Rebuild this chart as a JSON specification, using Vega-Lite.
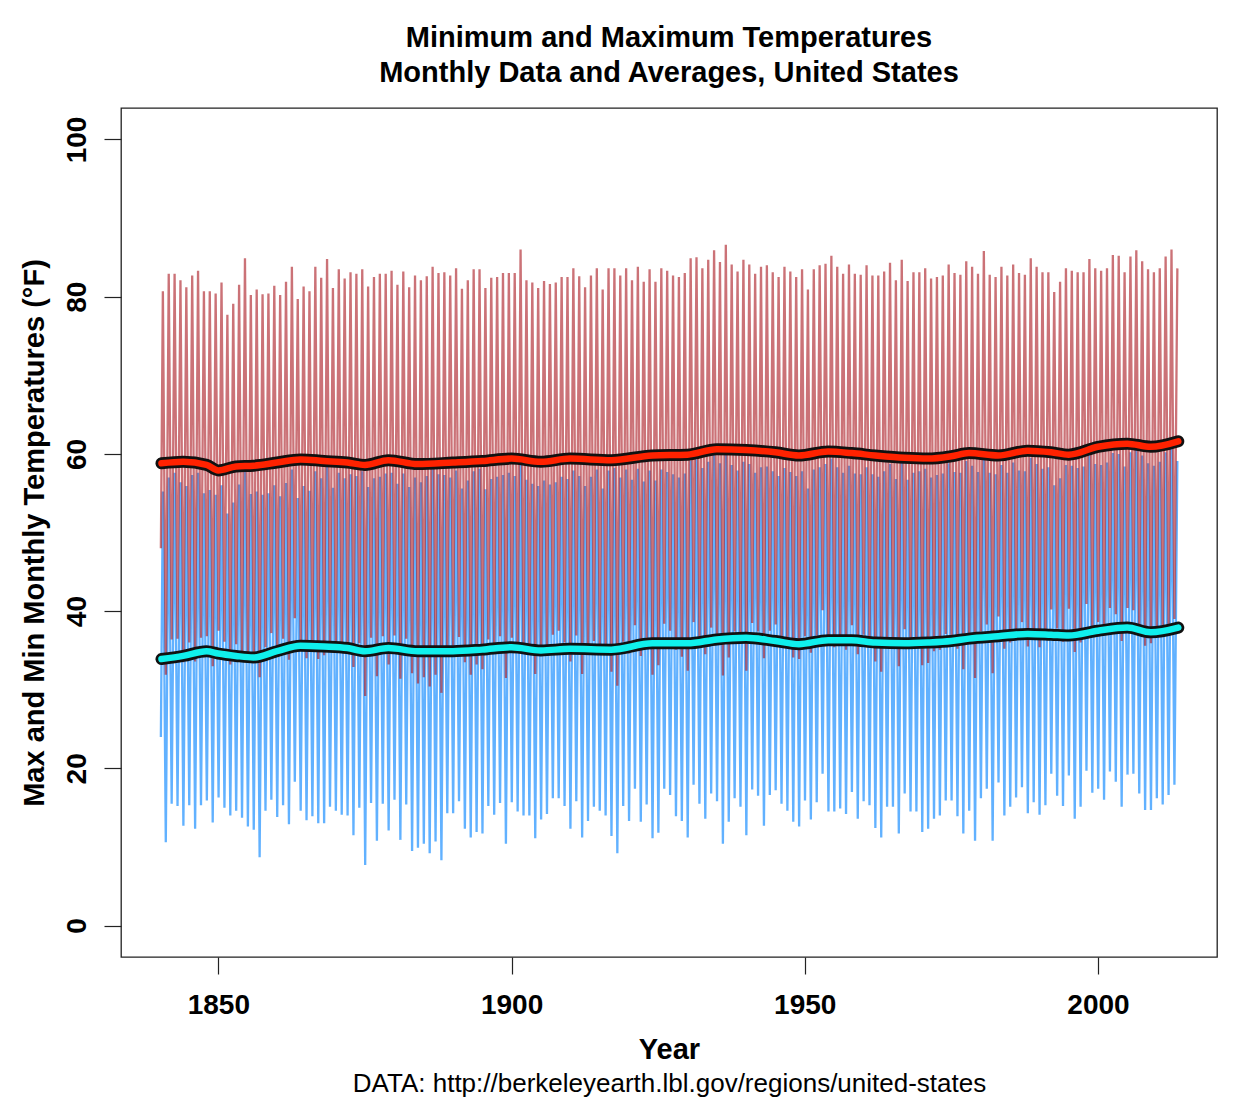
{
"$schema":"https://vega.github.io/schema/vega-lite/v6.json",
"width":1096,"height":849,
"autosize":{"type":"none"},
"padding":{"left":121,"top":108,"right":21,"bottom":154},
"background":"white",
"title":{"text":["Minimum and Maximum Temperatures","Monthly Data and Averages, United States"],"fontSize":29,"fontWeight":"bold","lineHeight":35,"anchor":"middle","offset":20,"color":"black","font":"Liberation Sans"},
"config":{
 "font":"Liberation Sans",
 "view":{"stroke":"#222","strokeWidth":1.3},
 "axis":{"grid":false,"domain":false,"tickColor":"#222","tickSize":17,"tickWidth":1.2,"labelColor":"black","labelFontSize":28,"labelFontWeight":"bold","titleColor":"black","titleFontSize":29,"titleFontWeight":"bold","labelFont":"Liberation Sans","titleFont":"Liberation Sans"},
 "axisX":{"labelPadding":17,"titlePadding":16},
 "axisY":{"labelAngle":-90,"labelAlign":"center","labelBaseline":"bottom","labelPadding":13,"titlePadding":14}
},
"resolve":{"axis":{"x":"independent"}},
"datasets":{
"m":[
{"t":1840.2,"mx":48.0,"mn":24.0},{"t":1840.54,"mx":80.7,"mn":55.2},
{"t":1841.04,"mx":31.9,"mn":10.6},{"t":1841.54,"mx":82.9,"mn":57.0},
{"t":1842.04,"mx":36.4,"mn":15.5},{"t":1842.54,"mx":82.9,"mn":57.6},
{"t":1843.04,"mx":36.5,"mn":15.2},{"t":1843.54,"mx":82.1,"mn":56.4},
{"t":1844.04,"mx":33.5,"mn":12.7},{"t":1844.54,"mx":81.2,"mn":55.9},
{"t":1845.04,"mx":36.0,"mn":15.3},{"t":1845.54,"mx":82.7,"mn":57.3},
{"t":1846.04,"mx":33.6,"mn":12.3},{"t":1846.54,"mx":83.3,"mn":57.6},
{"t":1847.04,"mx":36.6,"mn":15.3},{"t":1847.54,"mx":80.7,"mn":55.0},
{"t":1848.04,"mx":36.8,"mn":15.9},{"t":1848.54,"mx":80.7,"mn":55.4},
{"t":1849.04,"mx":33.0,"mn":13.1},{"t":1849.54,"mx":80.4,"mn":54.8},
{"t":1850.04,"mx":37.5,"mn":16.3},{"t":1850.54,"mx":81.8,"mn":56.0},
{"t":1851.04,"mx":36.1,"mn":15.0},{"t":1851.54,"mx":77.7,"mn":52.4},
{"t":1852.04,"mx":33.2,"mn":14.0},{"t":1852.54,"mx":79.1,"mn":53.8},
{"t":1853.04,"mx":35.8,"mn":14.6},{"t":1853.54,"mx":81.5,"mn":56.1},
{"t":1854.04,"mx":34.9,"mn":13.7},{"t":1854.54,"mx":84.9,"mn":58.6},
{"t":1855.04,"mx":33.7,"mn":12.6},{"t":1855.54,"mx":80.2,"mn":54.9},
{"t":1856.04,"mx":33.5,"mn":12.2},{"t":1856.54,"mx":80.9,"mn":55.2},
{"t":1857.04,"mx":31.6,"mn":8.7},{"t":1857.54,"mx":80.3,"mn":54.8},
{"t":1858.04,"mx":35.4,"mn":14.6},{"t":1858.54,"mx":80.4,"mn":55.0},
{"t":1859.04,"mx":37.2,"mn":16.0},{"t":1859.54,"mx":81.4,"mn":56.0},
{"t":1860.04,"mx":34.6,"mn":13.8},{"t":1860.54,"mx":80.2,"mn":54.6},
{"t":1861.04,"mx":36.5,"mn":15.3},{"t":1861.54,"mx":81.9,"mn":56.3},
{"t":1862.04,"mx":33.8,"mn":12.9},{"t":1862.54,"mx":83.8,"mn":58.0},
{"t":1863.04,"mx":39.1,"mn":18.3},{"t":1863.54,"mx":79.7,"mn":54.4},
{"t":1864.04,"mx":35.9,"mn":14.6},{"t":1864.54,"mx":81.3,"mn":55.9},
{"t":1865.04,"mx":34.0,"mn":13.4},{"t":1865.54,"mx":80.7,"mn":55.3},
{"t":1866.04,"mx":35.2,"mn":13.9},{"t":1866.54,"mx":83.8,"mn":57.8},
{"t":1867.04,"mx":33.9,"mn":13.0},{"t":1867.54,"mx":82.4,"mn":56.9},
{"t":1868.04,"mx":34.4,"mn":13.0},{"t":1868.54,"mx":84.8,"mn":58.9},
{"t":1869.04,"mx":36.0,"mn":15.1},{"t":1869.54,"mx":81.1,"mn":55.7},
{"t":1870.04,"mx":35.7,"mn":14.6},{"t":1870.54,"mx":83.5,"mn":57.6},
{"t":1871.04,"mx":35.3,"mn":14.1},{"t":1871.54,"mx":82.3,"mn":56.9},
{"t":1872.04,"mx":34.8,"mn":14.0},{"t":1872.54,"mx":83.1,"mn":57.4},
{"t":1873.04,"mx":32.9,"mn":11.5},{"t":1873.54,"mx":82.9,"mn":57.2},
{"t":1874.04,"mx":35.9,"mn":15.0},{"t":1874.54,"mx":83.5,"mn":57.8},
{"t":1875.04,"mx":29.2,"mn":7.7},{"t":1875.54,"mx":81.3,"mn":55.8},
{"t":1876.04,"mx":36.6,"mn":15.6},{"t":1876.54,"mx":82.5,"mn":56.9},
{"t":1877.04,"mx":31.7,"mn":10.8},{"t":1877.54,"mx":82.9,"mn":57.1},
{"t":1878.04,"mx":36.8,"mn":15.5},{"t":1878.54,"mx":82.9,"mn":57.5},
{"t":1879.04,"mx":33.2,"mn":12.1},{"t":1879.54,"mx":83.3,"mn":57.6},
{"t":1880.04,"mx":36.9,"mn":16.0},{"t":1880.54,"mx":81.5,"mn":56.2},
{"t":1881.04,"mx":31.4,"mn":10.9},{"t":1881.54,"mx":83.2,"mn":57.5},
{"t":1882.04,"mx":36.5,"mn":15.4},{"t":1882.54,"mx":81.2,"mn":55.8},
{"t":1883.04,"mx":32.1,"mn":9.5},{"t":1883.54,"mx":82.7,"mn":57.0},
{"t":1884.04,"mx":30.8,"mn":9.9},{"t":1884.54,"mx":82.1,"mn":56.4},
{"t":1885.04,"mx":31.6,"mn":10.4},{"t":1885.54,"mx":82.6,"mn":57.2},
{"t":1886.04,"mx":30.4,"mn":9.2},{"t":1886.54,"mx":83.8,"mn":58.1},
{"t":1887.04,"mx":31.9,"mn":10.7},{"t":1887.54,"mx":83.0,"mn":57.4},
{"t":1888.04,"mx":29.6,"mn":8.3},{"t":1888.54,"mx":83.1,"mn":57.3},
{"t":1889.04,"mx":35.2,"mn":14.3},{"t":1889.54,"mx":82.7,"mn":57.0},
{"t":1890.04,"mx":35.6,"mn":14.3},{"t":1890.54,"mx":83.6,"mn":57.9},
{"t":1891.04,"mx":36.7,"mn":15.8},{"t":1891.54,"mx":81.0,"mn":55.6},
{"t":1892.04,"mx":33.5,"mn":12.3},{"t":1892.54,"mx":82.1,"mn":56.6},
{"t":1893.04,"mx":31.9,"mn":11.2},{"t":1893.54,"mx":83.5,"mn":57.8},
{"t":1894.04,"mx":33.2,"mn":11.9},{"t":1894.54,"mx":83.5,"mn":58.1},
{"t":1895.04,"mx":32.6,"mn":11.7},{"t":1895.54,"mx":81.1,"mn":55.5},
{"t":1896.04,"mx":36.4,"mn":15.2},{"t":1896.54,"mx":82.4,"mn":56.8},
{"t":1897.04,"mx":35.0,"mn":14.1},{"t":1897.54,"mx":82.5,"mn":57.1},
{"t":1898.04,"mx":36.8,"mn":15.6},{"t":1898.54,"mx":83.0,"mn":57.3},
{"t":1899.04,"mx":31.5,"mn":10.4},{"t":1899.54,"mx":83.0,"mn":57.6},
{"t":1900.04,"mx":36.6,"mn":15.7},{"t":1900.54,"mx":83.0,"mn":57.2},
{"t":1901.04,"mx":35.8,"mn":14.5},{"t":1901.54,"mx":86.0,"mn":59.7},
{"t":1902.04,"mx":34.9,"mn":14.0},{"t":1902.54,"mx":82.1,"mn":56.7},
{"t":1903.04,"mx":35.3,"mn":14.0},{"t":1903.54,"mx":81.8,"mn":56.2},
{"t":1904.04,"mx":32.0,"mn":11.1},{"t":1904.54,"mx":81.1,"mn":55.9},
{"t":1905.04,"mx":34.6,"mn":13.5},{"t":1905.54,"mx":82.0,"mn":56.6},
{"t":1906.04,"mx":35.4,"mn":14.2},{"t":1906.54,"mx":81.6,"mn":56.1},
{"t":1907.04,"mx":37.0,"mn":16.2},{"t":1907.54,"mx":81.8,"mn":56.4},
{"t":1908.04,"mx":37.5,"mn":16.2},{"t":1908.54,"mx":82.5,"mn":57.1},
{"t":1909.04,"mx":36.0,"mn":15.2},{"t":1909.54,"mx":82.5,"mn":56.8},
{"t":1910.04,"mx":33.6,"mn":12.3},{"t":1910.54,"mx":83.6,"mn":57.9},
{"t":1911.04,"mx":36.9,"mn":15.8},{"t":1911.54,"mx":82.6,"mn":57.2},
{"t":1912.04,"mx":32.0,"mn":11.2},{"t":1912.54,"mx":81.2,"mn":55.9},
{"t":1913.04,"mx":34.5,"mn":13.3},{"t":1913.54,"mx":82.7,"mn":57.1},
{"t":1914.04,"mx":36.2,"mn":15.1},{"t":1914.54,"mx":83.6,"mn":58.0},
{"t":1915.04,"mx":35.4,"mn":14.6},{"t":1915.54,"mx":80.9,"mn":55.6},
{"t":1916.04,"mx":35.3,"mn":14.0},{"t":1916.54,"mx":83.6,"mn":57.9},
{"t":1917.04,"mx":32.3,"mn":11.4},{"t":1917.54,"mx":83.6,"mn":58.2},
{"t":1918.04,"mx":30.5,"mn":9.2},{"t":1918.54,"mx":82.7,"mn":57.0},
{"t":1919.04,"mx":36.1,"mn":15.2},{"t":1919.54,"mx":83.6,"mn":58.0},
{"t":1920.04,"mx":34.6,"mn":13.3},{"t":1920.54,"mx":82.1,"mn":56.7},
{"t":1921.04,"mx":38.2,"mn":17.4},{"t":1921.54,"mx":83.8,"mn":58.1},
{"t":1922.04,"mx":34.3,"mn":13.2},{"t":1922.54,"mx":81.9,"mn":56.5},
{"t":1923.04,"mx":36.6,"mn":15.4},{"t":1923.54,"mx":83.5,"mn":57.9},
{"t":1924.04,"mx":31.9,"mn":11.1},{"t":1924.54,"mx":81.9,"mn":56.6},
{"t":1925.04,"mx":33.1,"mn":11.8},{"t":1925.54,"mx":83.6,"mn":58.0},
{"t":1926.04,"mx":38.4,"mn":17.4},{"t":1926.54,"mx":83.3,"mn":57.7},
{"t":1927.04,"mx":37.5,"mn":16.6},{"t":1927.54,"mx":82.7,"mn":57.4},
{"t":1928.04,"mx":35.1,"mn":13.9},{"t":1928.54,"mx":82.5,"mn":57.0},
{"t":1929.04,"mx":34.2,"mn":13.3},{"t":1929.54,"mx":83.0,"mn":57.5},
{"t":1930.04,"mx":32.4,"mn":11.2},{"t":1930.54,"mx":84.9,"mn":59.1},
{"t":1931.04,"mx":38.6,"mn":17.9},{"t":1931.54,"mx":85.0,"mn":59.3},
{"t":1932.04,"mx":36.7,"mn":15.5},{"t":1932.54,"mx":83.6,"mn":58.2},
{"t":1933.04,"mx":34.5,"mn":13.6},{"t":1933.54,"mx":84.7,"mn":59.0},
{"t":1934.04,"mx":37.9,"mn":16.8},{"t":1934.54,"mx":85.9,"mn":60.0},
{"t":1935.04,"mx":36.6,"mn":15.8},{"t":1935.54,"mx":84.4,"mn":58.8},
{"t":1936.04,"mx":31.8,"mn":10.4},{"t":1936.54,"mx":86.6,"mn":60.4},
{"t":1937.04,"mx":34.1,"mn":13.2},{"t":1937.54,"mx":84.1,"mn":58.6},
{"t":1938.04,"mx":37.4,"mn":16.2},{"t":1938.54,"mx":83.2,"mn":57.9},
{"t":1939.04,"mx":36.3,"mn":15.1},{"t":1939.54,"mx":84.7,"mn":59.0},
{"t":1940.04,"mx":32.4,"mn":11.5},{"t":1940.54,"mx":84.1,"mn":58.7},
{"t":1941.04,"mx":38.5,"mn":17.3},{"t":1941.54,"mx":82.9,"mn":57.6},
{"t":1942.04,"mx":37.4,"mn":16.5},{"t":1942.54,"mx":83.8,"mn":58.3},
{"t":1943.04,"mx":34.0,"mn":12.7},{"t":1943.54,"mx":84.0,"mn":58.4},
{"t":1944.04,"mx":37.5,"mn":16.6},{"t":1944.54,"mx":83.1,"mn":57.8},
{"t":1945.04,"mx":38.3,"mn":17.2},{"t":1945.54,"mx":82.5,"mn":57.2},
{"t":1946.04,"mx":36.4,"mn":15.5},{"t":1946.54,"mx":83.8,"mn":58.2},
{"t":1947.04,"mx":35.8,"mn":14.6},{"t":1947.54,"mx":83.2,"mn":57.7},
{"t":1948.04,"mx":34.1,"mn":13.2},{"t":1948.54,"mx":82.5,"mn":57.2},
{"t":1949.04,"mx":33.9,"mn":12.6},{"t":1949.54,"mx":83.5,"mn":57.8},
{"t":1950.04,"mx":36.8,"mn":15.9},{"t":1950.54,"mx":80.9,"mn":55.6},
{"t":1951.04,"mx":34.7,"mn":13.5},{"t":1951.54,"mx":83.5,"mn":58.0},
{"t":1952.04,"mx":36.9,"mn":15.7},{"t":1952.54,"mx":84.0,"mn":58.3},
{"t":1953.04,"mx":40.1,"mn":19.3},{"t":1953.54,"mx":84.2,"mn":58.7},
{"t":1954.04,"mx":35.8,"mn":14.5},{"t":1954.54,"mx":85.2,"mn":59.4},
{"t":1955.04,"mx":35.4,"mn":14.5},{"t":1955.54,"mx":83.8,"mn":58.3},
{"t":1956.04,"mx":36.2,"mn":14.9},{"t":1956.54,"mx":82.9,"mn":57.6},
{"t":1957.04,"mx":35.1,"mn":14.2},{"t":1957.54,"mx":84.1,"mn":58.5},
{"t":1958.04,"mx":38.2,"mn":17.0},{"t":1958.54,"mx":82.9,"mn":57.5},
{"t":1959.04,"mx":34.5,"mn":13.6},{"t":1959.54,"mx":82.8,"mn":57.4},
{"t":1960.04,"mx":37.0,"mn":15.8},{"t":1960.54,"mx":84.0,"mn":58.3},
{"t":1961.04,"mx":36.1,"mn":15.3},{"t":1961.54,"mx":82.7,"mn":57.4},
{"t":1962.04,"mx":33.6,"mn":12.4},{"t":1962.54,"mx":82.7,"mn":57.1},
{"t":1963.04,"mx":32.3,"mn":11.2},{"t":1963.54,"mx":83.2,"mn":57.8},
{"t":1964.04,"mx":36.3,"mn":15.1},{"t":1964.54,"mx":84.3,"mn":58.7},
{"t":1965.04,"mx":35.9,"mn":15.1},{"t":1965.54,"mx":82.1,"mn":56.8},
{"t":1966.04,"mx":33.0,"mn":11.7},{"t":1966.54,"mx":84.7,"mn":59.0},
{"t":1967.04,"mx":37.7,"mn":16.8},{"t":1967.54,"mx":82.0,"mn":56.7},
{"t":1968.04,"mx":35.8,"mn":14.5},{"t":1968.54,"mx":83.1,"mn":57.6},
{"t":1969.04,"mx":35.3,"mn":14.5},{"t":1969.54,"mx":83.1,"mn":57.8},
{"t":1970.04,"mx":33.1,"mn":11.9},{"t":1970.54,"mx":83.6,"mn":58.1},
{"t":1971.04,"mx":33.4,"mn":12.3},{"t":1971.54,"mx":82.3,"mn":57.0},
{"t":1972.04,"mx":34.9,"mn":13.6},{"t":1972.54,"mx":82.5,"mn":57.3},
{"t":1973.04,"mx":35.1,"mn":14.0},{"t":1973.54,"mx":82.7,"mn":57.5},
{"t":1974.04,"mx":37.1,"mn":15.9},{"t":1974.54,"mx":84.1,"mn":58.8},
{"t":1975.04,"mx":36.8,"mn":15.9},{"t":1975.54,"mx":83.0,"mn":57.7},
{"t":1976.04,"mx":35.2,"mn":13.9},{"t":1976.54,"mx":82.8,"mn":57.6},
{"t":1977.04,"mx":32.6,"mn":11.7},{"t":1977.54,"mx":84.5,"mn":59.1},
{"t":1978.04,"mx":35.8,"mn":14.6},{"t":1978.54,"mx":83.8,"mn":58.5},
{"t":1979.04,"mx":31.5,"mn":10.8},{"t":1979.54,"mx":82.9,"mn":57.7},
{"t":1980.04,"mx":37.4,"mn":16.2},{"t":1980.54,"mx":85.8,"mn":60.2},
{"t":1981.04,"mx":38.3,"mn":17.4},{"t":1981.54,"mx":82.8,"mn":57.6},
{"t":1982.04,"mx":32.1,"mn":10.8},{"t":1982.54,"mx":82.5,"mn":57.4},
{"t":1983.04,"mx":39.3,"mn":18.2},{"t":1983.54,"mx":83.8,"mn":58.6},
{"t":1984.04,"mx":35.2,"mn":14.0},{"t":1984.54,"mx":82.7,"mn":57.6},
{"t":1985.04,"mx":36.0,"mn":15.1},{"t":1985.54,"mx":84.1,"mn":58.9},
{"t":1986.04,"mx":37.6,"mn":16.3},{"t":1986.54,"mx":83.0,"mn":57.9},
{"t":1987.04,"mx":38.6,"mn":17.6},{"t":1987.54,"mx":82.8,"mn":57.8},
{"t":1988.04,"mx":35.5,"mn":14.3},{"t":1988.54,"mx":84.9,"mn":59.5},
{"t":1989.04,"mx":36.6,"mn":15.7},{"t":1989.54,"mx":83.8,"mn":58.7},
{"t":1990.04,"mx":35.4,"mn":14.1},{"t":1990.54,"mx":83.1,"mn":58.1},
{"t":1991.04,"mx":36.5,"mn":15.3},{"t":1991.54,"mx":83.1,"mn":58.3},
{"t":1992.04,"mx":40.2,"mn":19.3},{"t":1992.54,"mx":80.6,"mn":56.0},
{"t":1993.04,"mx":37.8,"mn":16.5},{"t":1993.54,"mx":81.9,"mn":56.9},
{"t":1994.04,"mx":36.1,"mn":15.2},{"t":1994.54,"mx":83.6,"mn":58.6},
{"t":1995.04,"mx":40.3,"mn":19.1},{"t":1995.54,"mx":83.3,"mn":58.5},
{"t":1996.04,"mx":34.8,"mn":13.6},{"t":1996.54,"mx":83.1,"mn":58.2},
{"t":1997.04,"mx":36.0,"mn":15.1},{"t":1997.54,"mx":83.1,"mn":58.4},
{"t":1998.04,"mx":40.9,"mn":19.7},{"t":1998.54,"mx":84.8,"mn":59.8},
{"t":1999.04,"mx":37.9,"mn":16.9},{"t":1999.54,"mx":83.6,"mn":58.7},
{"t":2000.04,"mx":38.6,"mn":17.4},{"t":2000.54,"mx":83.3,"mn":58.6},
{"t":2001.04,"mx":37.1,"mn":16.0},{"t":2001.54,"mx":83.6,"mn":58.9},
{"t":2002.04,"mx":40.4,"mn":19.6},{"t":2002.54,"mx":85.3,"mn":60.1},
{"t":2003.04,"mx":39.6,"mn":18.3},{"t":2003.54,"mx":85.2,"mn":60.0},
{"t":2004.04,"mx":36.2,"mn":15.1},{"t":2004.54,"mx":83.1,"mn":58.4},
{"t":2005.04,"mx":40.4,"mn":19.2},{"t":2005.54,"mx":85.1,"mn":60.2},
{"t":2006.04,"mx":40.1,"mn":19.3},{"t":2006.54,"mx":85.9,"mn":60.7},
{"t":2007.04,"mx":38.0,"mn":16.8},{"t":2007.54,"mx":84.5,"mn":59.8},
{"t":2008.04,"mx":35.6,"mn":14.7},{"t":2008.54,"mx":83.5,"mn":58.8},
{"t":2009.04,"mx":35.9,"mn":14.7},{"t":2009.54,"mx":83.1,"mn":58.5},
{"t":2010.04,"mx":37.3,"mn":16.2},{"t":2010.54,"mx":83.6,"mn":59.0},
{"t":2011.04,"mx":36.7,"mn":15.4},{"t":2011.54,"mx":85.1,"mn":60.2},
{"t":2012.04,"mx":37.5,"mn":16.6},{"t":2012.54,"mx":86.0,"mn":61.1},
{"t":2013.04,"mx":39.0,"mn":17.9},{"t":2013.54,"mx":83.6,"mn":59.1}
],
"a":[
{"t":1840.3,"mx":58.8,"mn":33.9},{"t":1844,"mx":59.0,"mn":34.3},{"t":1848,"mx":58.6,"mn":34.9},{"t":1850,"mx":57.9,"mn":34.6},
{"t":1853,"mx":58.4,"mn":34.3},{"t":1856,"mx":58.5,"mn":34.1},{"t":1860,"mx":58.9,"mn":34.9},{"t":1864,"mx":59.3,"mn":35.6},
{"t":1868,"mx":59.1,"mn":35.5},{"t":1872,"mx":58.9,"mn":35.3},{"t":1875,"mx":58.6,"mn":34.9},{"t":1879,"mx":59.2,"mn":35.3},
{"t":1884,"mx":58.7,"mn":34.9},{"t":1890,"mx":58.9,"mn":34.9},{"t":1895,"mx":59.1,"mn":35.1},{"t":1900,"mx":59.4,"mn":35.4},
{"t":1905,"mx":59.0,"mn":35.0},{"t":1910,"mx":59.4,"mn":35.2},{"t":1917,"mx":59.2,"mn":35.1},{"t":1924,"mx":59.8,"mn":35.9},
{"t":1930,"mx":59.9,"mn":35.9},{"t":1935,"mx":60.6,"mn":36.4},{"t":1940,"mx":60.5,"mn":36.6},{"t":1945,"mx":60.2,"mn":36.2},
{"t":1949,"mx":59.8,"mn":35.8},{"t":1954,"mx":60.3,"mn":36.3},{"t":1958,"mx":60.1,"mn":36.3},{"t":1962,"mx":59.8,"mn":36.0},
{"t":1967,"mx":59.5,"mn":35.9},{"t":1971,"mx":59.4,"mn":36.0},{"t":1975,"mx":59.7,"mn":36.2},{"t":1978,"mx":60.1,"mn":36.5},
{"t":1983,"mx":59.8,"mn":36.8},{"t":1988,"mx":60.4,"mn":37.1},{"t":1992,"mx":60.2,"mn":37.0},{"t":1995,"mx":59.9,"mn":36.9},
{"t":2000,"mx":60.9,"mn":37.5},{"t":2005,"mx":61.3,"mn":37.9},{"t":2009,"mx":60.9,"mn":37.3},{"t":2013.7,"mx":61.6,"mn":37.9}
]
},
"layer":[
{"data":{"name":"m"},"mark":{"type":"line","stroke":"#1E90FF","strokeWidth":2.3,"opacity":0.7},
 "encoding":{
  "x":{"field":"t","type":"quantitative","scale":{"domain":[1833.4,2020.3],"nice":false,"zero":false},"axis":{"title":"Year","values":[1850,1900,1950,2000],"format":"d"}},
  "y":{"field":"mn","type":"quantitative","scale":{"domain":[-4,104],"nice":false,"zero":false},"axis":{"title":"Max and Min Monthly Temperatures (°F)","values":[0,20,40,60,80,100]}}}},
{"data":{"name":"m"},"mark":{"type":"line","stroke":"#A8141C","strokeWidth":2.3,"opacity":0.6},
 "encoding":{
  "x":{"field":"t","type":"quantitative","axis":null},
  "y":{"field":"mx","type":"quantitative","axis":{"title":"Max and Min Monthly Temperatures (°F)","values":[0,20,40,60,80,100]}}}},
{"data":{"name":"a"},"mark":{"type":"line","stroke":"#111111","strokeWidth":12,"strokeCap":"round","interpolate":"monotone"},
 "encoding":{
  "x":{"field":"t","type":"quantitative","axis":{"orient":"bottom","labels":false,"ticks":false,"domain":false,"title":"DATA: http://berkeleyearth.lbl.gov/regions/united-states","titleFontWeight":"normal","titleFontSize":26,"titlePadding":113}},
  "y":{"field":"mx","type":"quantitative","axis":{"title":"Max and Min Monthly Temperatures (°F)","values":[0,20,40,60,80,100]}}}},
{"data":{"name":"a"},"mark":{"type":"line","stroke":"#FF2200","strokeWidth":6.5,"strokeCap":"round","interpolate":"monotone"},
 "encoding":{
  "x":{"field":"t","type":"quantitative","axis":null},
  "y":{"field":"mx","type":"quantitative","axis":{"title":"Max and Min Monthly Temperatures (°F)","values":[0,20,40,60,80,100]}}}},
{"data":{"name":"a"},"mark":{"type":"line","stroke":"#111111","strokeWidth":12,"strokeCap":"round","interpolate":"monotone"},
 "encoding":{
  "x":{"field":"t","type":"quantitative","axis":null},
  "y":{"field":"mn","type":"quantitative","axis":{"title":"Max and Min Monthly Temperatures (°F)","values":[0,20,40,60,80,100]}}}},
{"data":{"name":"a"},"mark":{"type":"line","stroke":"#10F0EC","strokeWidth":6.5,"strokeCap":"round","interpolate":"monotone"},
 "encoding":{
  "x":{"field":"t","type":"quantitative","axis":null},
  "y":{"field":"mn","type":"quantitative","axis":{"title":"Max and Min Monthly Temperatures (°F)","values":[0,20,40,60,80,100]}}}}
]
}
